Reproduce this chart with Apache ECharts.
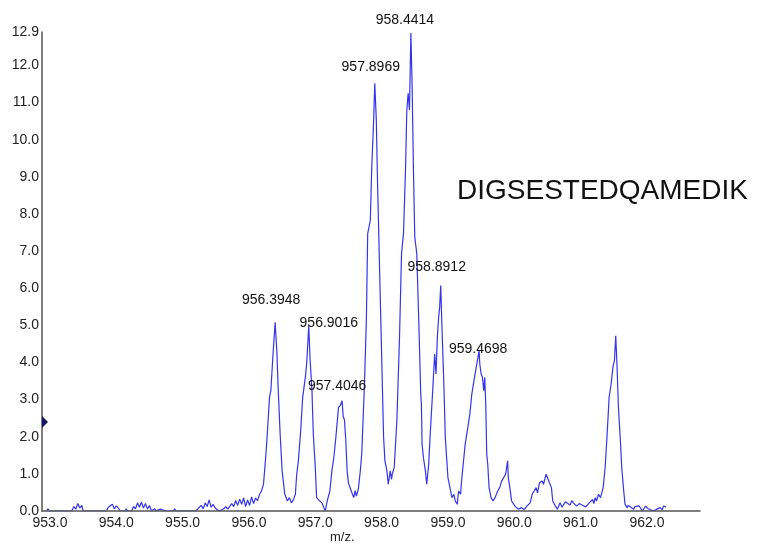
<!DOCTYPE html>
<html>
<head>
<meta charset="utf-8">
<title>DIGSESTEDQAMEDIK isotope envelope</title>
<script src="https://cdn.jsdelivr.net/npm/echarts@6/dist/echarts.min.js"></script>
<style>
  html, body { margin: 0; padding: 0; background: #fff; }
  #chart { width: 764px; height: 545px; }
</style>
</head>
<body>
<div id="chart"></div>
<script>
// Peptide whose isotope envelope is shown
const sequenceText = 'DIGSESTEDQAMEDIK';

// Profile spectrum: m/z and intensity
const mzValues = [
  952.95, 952.97, 952.99, 953.13, 953.15, 953.17, 953.33, 953.36, 953.39, 953.42,
  953.45, 953.48, 953.50, 953.60, 953.62, 953.64, 953.70, 953.72, 953.74, 953.85,
  953.88, 953.91, 953.94, 953.97, 954.00, 954.03, 954.06, 954.13, 954.15, 954.17,
  954.23, 954.26, 954.29, 954.32, 954.35, 954.38, 954.41, 954.44, 954.47, 954.50,
  954.53, 954.58, 954.60, 954.66, 954.68, 954.75, 954.77, 954.79, 954.86, 954.88,
  954.90, 955.00, 955.02, 955.04, 955.20, 955.24, 955.28, 955.31, 955.34, 955.37,
  955.40, 955.43, 955.46, 955.49, 955.52, 955.55, 955.62, 955.65, 955.68, 955.71,
  955.74, 955.77, 955.80, 955.83, 955.86, 955.89, 955.92, 955.95, 955.98, 956.01,
  956.04, 956.07, 956.10, 956.13, 956.16, 956.19, 956.22, 956.25, 956.27, 956.31,
  956.33, 956.36, 956.3948, 956.42, 956.44, 956.47, 956.50, 956.54, 956.58, 956.61,
  956.64, 956.67, 956.70, 956.72, 956.745, 956.78, 956.81, 956.85, 956.87, 956.9016,
  956.92, 956.95, 956.97, 957.00, 957.02, 957.05, 957.07, 957.10, 957.12, 957.15,
  957.18, 957.22, 957.25, 957.28, 957.31, 957.35, 957.38, 957.4046, 957.42, 957.44,
  957.46, 957.48, 957.50, 957.53, 957.56, 957.58, 957.60, 957.62, 957.65, 957.68,
  957.70, 957.74, 957.77, 957.79, 957.83, 957.85, 957.88, 957.8969, 957.92, 957.94,
  957.97, 958.00, 958.03, 958.05, 958.08, 958.10, 958.13, 958.15, 958.16, 958.19,
  958.23, 958.27, 958.30, 958.33, 958.36, 958.38, 958.40, 958.42, 958.4414, 958.46,
  958.48, 958.50, 958.53, 958.56, 958.59, 958.60, 958.61, 958.63, 958.66, 958.68,
  958.71, 958.73, 958.77, 958.80, 958.82, 958.84, 958.86, 958.875, 958.8912, 958.91,
  958.94, 958.96, 959.00, 959.04, 959.06, 959.09, 959.11, 959.14, 959.16, 959.19,
  959.21, 959.24, 959.26, 959.30, 959.33, 959.36, 959.40, 959.43, 959.4698, 959.48,
  959.50, 959.52, 959.54, 959.555, 959.57, 959.585, 959.60, 959.62, 959.65, 959.68,
  959.71, 959.75, 959.78, 959.81, 959.84, 959.87, 959.90, 959.91, 959.94, 959.96,
  960.01, 960.06, 960.11, 960.15, 960.19, 960.24, 960.27, 960.30, 960.33, 960.35,
  960.38, 960.42, 960.44, 960.48, 960.51, 960.53, 960.56, 960.58, 960.62, 960.65,
  960.69, 960.72, 960.74, 960.77, 960.79, 960.84, 960.87, 960.89, 960.94, 960.98,
  961.02, 961.08, 961.13, 961.18, 961.20, 961.22, 961.24, 961.27, 961.30, 961.34,
  961.37, 961.40, 961.43, 961.46, 961.49, 961.51, 961.53, 961.55, 961.57, 961.60,
  961.62, 961.65, 961.67, 961.70, 961.72, 961.75, 961.80, 961.82, 961.85, 961.88,
  961.90, 961.93, 961.95, 961.98, 962.00, 962.02, 962.05, 962.10, 962.15, 962.20,
  962.23, 962.25, 962.29
];
const intensityValues = [
  0.00, 0.06, 0.00, 0.00, 0.05, 0.00, 0.00, 0.12, 0.05, 0.20,
  0.08, 0.15, 0.00, 0.00, 0.05, 0.00, 0.00, 0.05, 0.00, 0.00,
  0.10, 0.05, 0.18, 0.06, 0.14, 0.08, 0.00, 0.00, 0.06, 0.00,
  0.00, 0.12, 0.06, 0.22, 0.10, 0.24, 0.08, 0.20, 0.05, 0.15,
  0.00, 0.06, 0.00, 0.05, 0.00, 0.00, 0.05, 0.00, 0.00, 0.06,
  0.00, 0.00, 0.05, 0.00, 0.00, 0.08, 0.15, 0.06, 0.22, 0.12,
  0.30, 0.10, 0.18, 0.08, 0.10, 0.00, 0.06, 0.12, 0.05, 0.10,
  0.20, 0.12, 0.28, 0.15, 0.32, 0.18, 0.35, 0.12, 0.30, 0.15,
  0.38, 0.20, 0.35, 0.28, 0.45, 0.54, 0.73, 1.40, 1.89, 3.06,
  3.24, 4.14, 5.08, 4.32, 3.33, 2.08, 1.08, 0.46, 0.27, 0.36,
  0.22, 0.30, 0.45, 0.99, 1.35, 2.16, 3.06, 3.60, 3.96, 4.99,
  4.14, 3.24, 2.08, 1.17, 0.36, 0.30, 0.27, 0.22, 0.18, 0.00,
  0.27, 0.54, 1.08, 1.44, 1.98, 2.79, 2.85, 2.97, 2.55, 2.45,
  1.90, 1.08, 0.75, 0.60, 0.45, 0.36, 0.55, 0.40, 0.60, 1.10,
  1.53, 3.33, 5.13, 7.47, 7.83, 9.18, 10.53, 11.52, 10.53, 8.73,
  6.48, 4.23, 1.98, 1.35, 1.08, 0.72, 1.08, 0.85, 0.99, 1.17,
  2.43, 4.68, 6.93, 7.47, 9.18, 10.80, 11.25, 10.80, 12.87, 11.43,
  9.18, 7.38, 6.93, 5.13, 3.15, 2.88, 1.80, 1.44, 1.08, 0.72,
  1.26, 1.98, 3.24, 4.23, 3.69, 4.68, 5.22, 5.49, 6.07, 4.95,
  3.33, 1.98, 0.90, 0.54, 0.36, 0.45, 0.27, 0.18, 0.54, 0.45,
  0.90, 1.44, 1.80, 2.25, 2.61, 3.15, 3.60, 3.90, 4.32, 3.96,
  3.69, 3.60, 3.24, 3.60, 2.88, 1.53, 1.26, 0.63, 0.36, 0.27,
  0.36, 0.54, 0.63, 0.81, 0.90, 0.99, 1.35, 0.90, 0.54, 0.27,
  0.13, 0.05, 0.09, 0.04, 0.13, 0.22, 0.45, 0.40, 0.63, 0.49,
  0.76, 0.81, 0.72, 0.99, 1.01, 0.76, 0.63, 0.27, 0.13, 0.05,
  0.22, 0.10, 0.13, 0.25, 0.22, 0.16, 0.28, 0.22, 0.13, 0.20,
  0.16, 0.11, 0.22, 0.31, 0.20, 0.36, 0.27, 0.45, 0.36, 0.63,
  1.17, 2.07, 3.06, 3.42, 3.91, 4.05, 4.72, 3.87, 2.79, 1.89,
  1.17, 0.54, 0.18, 0.09, 0.15, 0.13, 0.05, 0.12, 0.09, 0.14,
  0.11, 0.00, 0.05, 0.13, 0.13, 0.06, 0.09, 0.00, 0.05, 0.09,
  0.03, 0.13, 0.11
];

// Annotated isotope peaks (centroid m/z)
const peakMz = [956.3948, 956.9016, 957.4046, 957.8969, 958.4414, 958.8912, 959.4698];

// Axis ticks
const xTickValues = [953, 954, 955, 956, 957, 958, 959, 960, 961, 962];
const yTickValues = [0, 1, 2, 3, 4, 5, 6, 7, 8, 9, 10, 11, 12, 12.9];

// Threshold marker on the intensity axis
const thresholdLevel = 2.4;

const xMin = 952.88;
const xMax = 962.8;
const yMax = 12.9;

const FONT = "'Liberation Sans', Arial, Helvetica, sans-serif";

const lineData = mzValues.map((m, i) => [m, intensityValues[i]]);
const peakIntensity = peakMz.map(m => intensityValues[mzValues.indexOf(m)]);

// Label placement relative to each peak apex, in pixels
const labelOffsets = [[-4, -22], [20, -3], [-5, -15], [-4, -16], [-6, -13], [-4, -18], [-1, -1]];

const peakData = peakMz.map((m, i) => ({
  value: [m, peakIntensity[i]],
  label: { offset: labelOffsets[i] }
}));

const chart = echarts.init(document.getElementById('chart'), null, { renderer: 'canvas' });

chart.setOption({
  animation: false,
  backgroundColor: '#ffffff',
  title: {
    text: sequenceText,
    left: 457,
    top: 177,
    padding: 0,
    textStyle: { fontFamily: FONT, fontSize: 28, fontWeight: 'normal', color: '#111' }
  },
  graphic: [{
    type: 'text',
    left: 330,
    top: 531,
    style: { text: 'm/z.', font: "13px 'Liberation Sans', Arial, sans-serif", fill: '#222' }
  }],
  grid: { left: 42, right: 64, top: 32, bottom: 34, containLabel: false },
  xAxis: {
    type: 'value',
    min: xMin,
    max: xMax,
    z: 5,
    axisLine: { show: true, onZero: false, lineStyle: { color: '#555', width: 1.5 } },
    axisTick: { show: false },
    splitLine: { show: false },
    axisLabel: {
      customValues: xTickValues,
      margin: 5,
      color: '#222',
      fontFamily: FONT,
      fontSize: 14,
      formatter: v => v.toFixed(1)
    }
  },
  yAxis: {
    type: 'value',
    min: 0,
    max: yMax,
    z: 5,
    axisLine: { show: true, lineStyle: { color: '#555', width: 1.5 } },
    axisTick: { show: false },
    splitLine: { show: false },
    axisLabel: {
      customValues: yTickValues,
      margin: 3,
      color: '#222',
      fontFamily: FONT,
      fontSize: 14,
      formatter: v => v.toFixed(1)
    }
  },
  series: [
    {
      type: 'line',
      data: lineData,
      showSymbol: false,
      symbol: 'none',
      lineStyle: { color: '#3434ee', width: 1.2 },
      z: 2
    },
    {
      type: 'scatter',
      data: peakData,
      symbolSize: 0,
      z: 3,
      itemStyle: { opacity: 1 },
      label: {
        show: true,
        position: 'inside',
        formatter: p => p.value[0].toFixed(4),
        color: '#111',
        textBorderWidth: 0,
        fontFamily: FONT,
        fontSize: 14
      }
    },
    {
      type: 'scatter',
      data: [[xMin, thresholdLevel]],
      symbol: 'triangle',
      symbolSize: [12, 6],
      symbolRotate: -90,
      symbolOffset: [3, 0],
      clip: false,
      z: 6,
      itemStyle: { color: '#15156a', opacity: 1 }
    }
  ]
});
</script>
</body>
</html>
